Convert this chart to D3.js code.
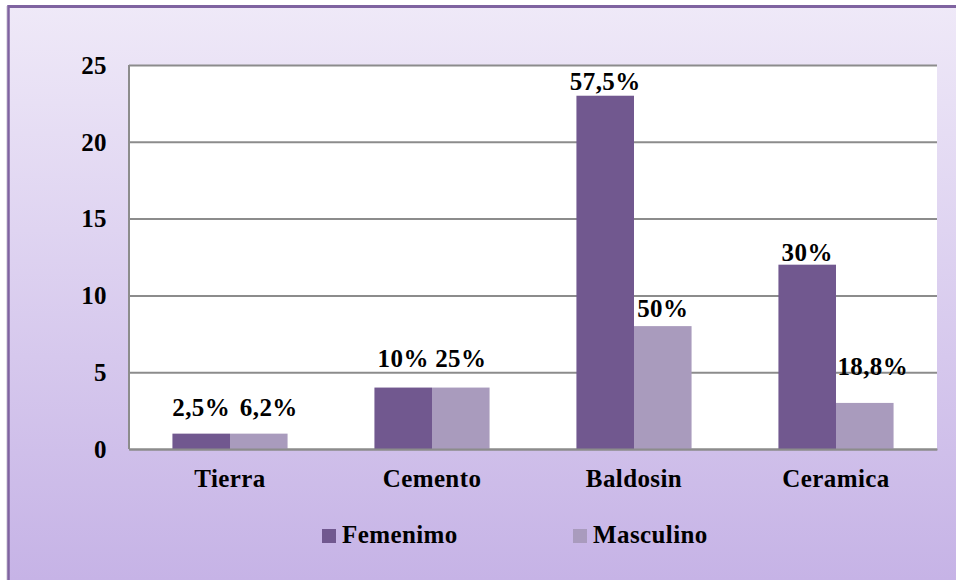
<!DOCTYPE html>
<html>
<head>
<meta charset="utf-8">
<script src="https://cdn.jsdelivr.net/npm/d3@7"></script>
<style>
  html, body { margin: 0; padding: 0; background: #fff; }
  svg { display: block; }
  text { font-family: "Liberation Serif", "Times New Roman", serif; font-weight: bold; fill: #000; letter-spacing: 0.4px; }
</style>
</head>
<body>
<svg width="956" height="580"></svg>
<script>
// data
var categories = ["Tierra", "Cemento", "Baldosin", "Ceramica"];
var seriesNames = ["Femenimo", "Masculino"];
var femenimo = [1, 4, 23, 12];
var masculino = [1, 4, 8, 3];
var femLabels = ["2,5%", "10%", "57,5%", "30%"];
var mascLabels = ["6,2%", "25%", "50%", "18,8%"];
var yTicks = [0, 5, 10, 15, 20, 25];

var colors = { "Femenimo": "#71588f", "Masculino": "#a99bbd" };
// hand-placed label nudges (px), like the original sheet
var labelNudge = {
  "Femenimo": { dx: [0, 0, 0, 0], dy: [-18, -21, -6, -4] },
  "Masculino": { dx: [10, 0, 0, 8], dy: [-18, -21, -9, -28] }
};

var width = 956, height = 580;
var plotLeft = 129, plotRight = 937, plotTop = 65, plotBottom = 449;
var fontSize = 25;

var svg = d3.select("svg");

// background gradient + frame
var defs = svg.append("defs");
var grad = defs.append("linearGradient")
    .attr("id", "bg")
    .attr("x1", 0).attr("y1", 0).attr("x2", 0).attr("y2", 1);
grad.append("stop").attr("offset", "0%").attr("stop-color", "#efe9f8");
grad.append("stop").attr("offset", "100%").attr("stop-color", "#c6b3e6");

svg.append("rect")
    .attr("x", 6).attr("y", 6)
    .attr("width", width - 6).attr("height", height - 6)
    .attr("fill", "#e4e0e8");
svg.append("rect")
    .attr("x", 8).attr("y", 6)
    .attr("width", width - 8).attr("height", height - 6)
    .attr("fill", "url(#bg)");
svg.append("line") // top edge
    .attr("x1", 8).attr("x2", width).attr("y1", 6.5).attr("y2", 6.5)
    .attr("stroke", "#7f63a0").attr("stroke-width", 3);
svg.append("line") // left edge
    .attr("x1", 8.5).attr("x2", 8.5).attr("y1", 5).attr("y2", height)
    .attr("stroke", "#7f63a0").attr("stroke-width", 2.5);

// plot area
svg.append("rect")
    .attr("x", plotLeft).attr("y", plotTop)
    .attr("width", plotRight - plotLeft).attr("height", plotBottom - plotTop)
    .attr("fill", "#fff");

var x0 = d3.scaleBand()
    .domain(categories)
    .range([plotLeft, plotRight])
    .paddingInner(0.43)
    .paddingOuter(0.215);
var x1 = d3.scaleBand()
    .domain(seriesNames)
    .range([0, x0.bandwidth()]);
var y = d3.scaleLinear()
    .domain([0, 25])
    .range([plotBottom, plotTop]);

// y axis with gridlines
var yAxis = d3.axisLeft(y)
    .tickValues(yTicks)
    .tickSize(-(plotRight - plotLeft))
    .tickPadding(22)
    .tickFormat(d3.format("d"));
var yG = svg.append("g")
    .attr("transform", "translate(" + plotLeft + ",0)")
    .call(yAxis);
yG.select(".domain").remove();
yG.selectAll(".tick line")
    .attr("stroke", "#8c8c8c")
    .attr("stroke-width", 2);
yG.selectAll(".tick text")
    .attr("font-size", fontSize + "px")
    .attr("font-family", null)
    .attr("dy", "0.33em");

// y axis line
svg.append("line")
    .attr("x1", plotLeft).attr("x2", plotLeft)
    .attr("y1", plotTop).attr("y2", plotBottom)
    .attr("stroke", "#8c8c8c").attr("stroke-width", 2);

// bars
var rows = categories.map(function (c, i) {
  return { cat: c, i: i, vals: [
    { name: "Femenimo", v: femenimo[i], label: femLabels[i] },
    { name: "Masculino", v: masculino[i], label: mascLabels[i] }
  ] };
});

var groups = svg.selectAll(".grp")
    .data(rows)
    .enter().append("g")
    .attr("class", "grp")
    .attr("transform", function (d) { return "translate(" + x0(d.cat) + ",0)"; });

groups.selectAll("rect")
    .data(function (d) { return d.vals; })
    .enter().append("rect")
    .attr("x", function (d) { return x1(d.name); })
    .attr("y", function (d) { return y(d.v); })
    .attr("width", x1.bandwidth())
    .attr("height", function (d) { return y(0) - y(d.v); })
    .attr("fill", function (d) { return colors[d.name]; });

// x axis
var xAxis = d3.axisBottom(x0).tickSize(0);
var xG = svg.append("g")
    .attr("transform", "translate(0," + plotBottom + ")")
    .call(xAxis);
xG.select(".domain")
    .attr("stroke", "#8c8c8c")
    .attr("stroke-width", 2);
xG.selectAll(".tick text")
    .attr("font-size", fontSize + "px")
    .attr("font-family", null)
    .attr("y", 38)
    .attr("dy", 0);

// value labels
groups.each(function (row) {
  d3.select(this).selectAll(".lbl")
    .data(row.vals)
    .enter().append("text")
    .attr("class", "lbl")
    .attr("text-anchor", "middle")
    .attr("font-size", fontSize + "px")
    .attr("x", function (d) { return x1(d.name) + x1.bandwidth() / 2 + labelNudge[d.name].dx[row.i]; })
    .attr("y", function (d) { return y(d.v) + labelNudge[d.name].dy[row.i]; })
    .text(function (d) { return d.label; });
});

// legend
var legendX = { "Femenimo": 322, "Masculino": 573 };
var legend = svg.selectAll(".leg")
    .data(seriesNames)
    .enter().append("g")
    .attr("class", "leg")
    .attr("transform", function (d) { return "translate(" + legendX[d] + ",529)"; });
legend.append("rect")
    .attr("width", 14).attr("height", 14)
    .attr("fill", function (d) { return colors[d]; });
legend.append("text")
    .attr("x", 20).attr("y", 14)
    .attr("font-size", fontSize + "px")
    .text(function (d) { return d; });
</script>
</body>
</html>
